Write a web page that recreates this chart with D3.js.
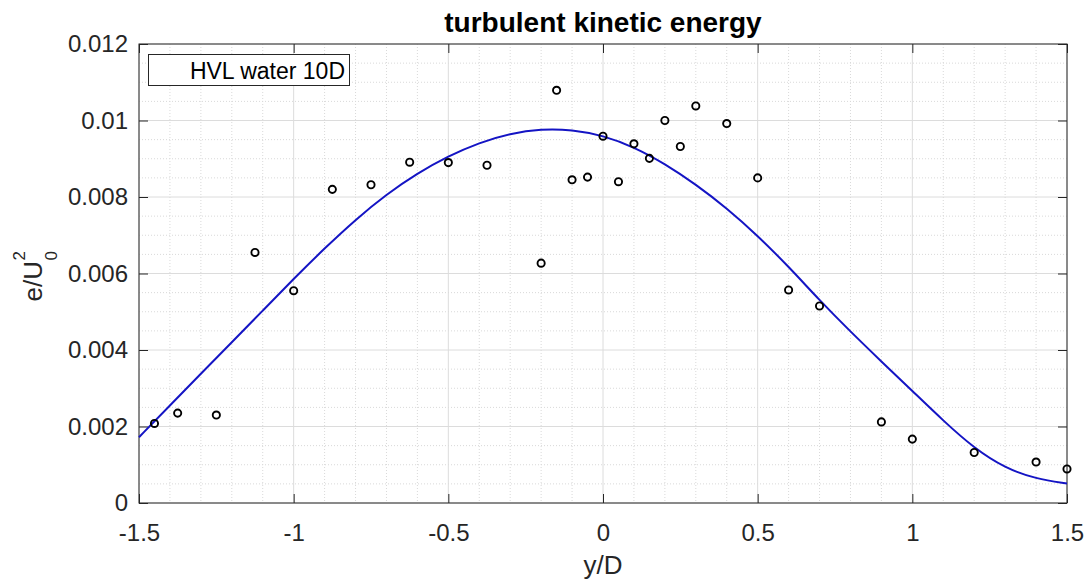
<!DOCTYPE html>
<html>
<head>
<meta charset="utf-8">
<script src="https://cdn.jsdelivr.net/npm/d3@7"></script>
<style>
  body { margin: 0; background: #fff; }
  svg { display: block; font-family: "Liberation Sans", Arial, Helvetica, sans-serif; }
</style>
</head>
<body>
<script>
// measured points (HVL water 10D)
const ptX = [-1.45, -1.375, -1.25, -1.125, -1, -0.875, -0.75, -0.625, -0.5, -0.375,
  -0.2, -0.15, -0.1, -0.05, 0, 0.05, 0.1, 0.15, 0.2, 0.25,
  0.3, 0.4, 0.5, 0.6, 0.7, 0.9, 1, 1.2, 1.4, 1.5]
const ptY = [0.00208, 0.00235, 0.0023, 0.00655, 0.00555, 0.0082, 0.00832, 0.00891, 0.0089, 0.00883,
  0.00627, 0.01079, 0.00845, 0.00852, 0.00959, 0.0084, 0.00939, 0.00901, 0.01, 0.00932,
  0.01038, 0.00992, 0.0085, 0.00557, 0.00515, 0.00212, 0.00167, 0.00132, 0.00107, 0.00089]

// fitted curve
const fitX = [-1.5, -1.4, -1.3, -1.2, -1.1, -1.0, -0.9, -0.8, -0.7, -0.6, -0.5, -0.4, -0.3, -0.2, -0.1,
  0, 0.1, 0.2, 0.3, 0.4, 0.5, 0.6, 0.7, 0.8, 0.9, 1.0, 1.1, 1.2, 1.3, 1.4, 1.5]
const fitY = [0.00172, 0.00255, 0.00338, 0.0042, 0.00503, 0.00586, 0.00666, 0.00741, 0.00807, 0.00862,
  0.00907, 0.00942, 0.00966, 0.00978, 0.00976, 0.00961, 0.00931, 0.00887, 0.00833, 0.00771,
  0.00699, 0.00618, 0.0053, 0.00448, 0.0037, 0.00293, 0.00215, 0.00143, 0.00091, 0.00063, 0.00051]

const xTicks = [-1.5, -1, -0.5, 0, 0.5, 1, 1.5]
const xTickLabels = ['-1.5', '-1', '-0.5', '0', '0.5', '1', '1.5']
const yTicks = [0, 0.002, 0.004, 0.006, 0.008, 0.01, 0.012]
const yTickLabels = ['0', '0.002', '0.004', '0.006', '0.008', '0.01', '0.012']

const W = 1090, H = 584
const margin = {top: 44, right: 23, bottom: 81, left: 139},
      width = W - margin.left - margin.right,
      height = H - margin.top - margin.bottom

const axisColor = '#262626'

const svg = d3.select('body').append('svg')
  .attr('width', W)
  .attr('height', H)

const g = svg.append('g')
  .attr('transform', 'translate(' + margin.left + ',' + margin.top + ')')

const x = d3.scaleLinear().domain([-1.5, 1.5]).range([0, width])
const y = d3.scaleLinear().domain([0, 0.012]).range([height, 0])

// minor grid
const xMinor = d3.range(-15, 16).map(d => d / 10).filter(d => Math.abs(d * 2 - Math.round(d * 2)) > 1e-9)
const yMinor = d3.range(0, 25).map(d => d * 0.0005).filter((d, i) => i % 4 !== 0)

g.append('g').selectAll('line').data(xMinor).join('line')
  .attr('x1', d => x(d)).attr('x2', d => x(d))
  .attr('y1', 0).attr('y2', height)
  .attr('stroke', '#d9d9d9').attr('stroke-width', 1)
  .attr('stroke-dasharray', '1,2')

g.append('g').selectAll('line').data(yMinor).join('line')
  .attr('x1', 0).attr('x2', width)
  .attr('y1', d => y(d)).attr('y2', d => y(d))
  .attr('stroke', '#d9d9d9').attr('stroke-width', 1)
  .attr('stroke-dasharray', '1,2')

// major grid
g.append('g').selectAll('line').data(xTicks).join('line')
  .attr('x1', d => x(d)).attr('x2', d => x(d))
  .attr('y1', 0).attr('y2', height)
  .attr('stroke', '#dcdcdc').attr('stroke-width', 1)

g.append('g').selectAll('line').data(yTicks).join('line')
  .attr('x1', 0).attr('x2', width)
  .attr('y1', d => y(d)).attr('y2', d => y(d))
  .attr('stroke', '#dcdcdc').attr('stroke-width', 1)

// axes (ticks inward, box on)
const tickLen = 9
const fmtX = d => xTickLabels[xTicks.indexOf(d)]
const fmtY = d => yTickLabels[yTicks.indexOf(d)]

function styleAxis(sel) {
  sel.select('.domain').remove()
  sel.selectAll('line').attr('stroke', axisColor)
  sel.selectAll('text').attr('fill', axisColor)
}

g.append('g')
  .attr('transform', 'translate(0,' + height + ')')
  .call(d3.axisBottom(x).tickValues(xTicks).tickFormat(fmtX).tickSizeInner(-tickLen).tickSizeOuter(0).tickPadding(21))
  .call(styleAxis)
  .selectAll('text').style('font-size', '24px')

g.append('g')
  .call(d3.axisTop(x).tickValues(xTicks).tickFormat('').tickSizeInner(-tickLen).tickSizeOuter(0))
  .call(styleAxis)

g.append('g')
  .call(d3.axisLeft(y).tickValues(yTicks).tickFormat(fmtY).tickSizeInner(-tickLen).tickSizeOuter(0).tickPadding(11))
  .call(styleAxis)
  .selectAll('text').style('font-size', '24px')

g.append('g')
  .attr('transform', 'translate(' + width + ',0)')
  .call(d3.axisRight(y).tickValues(yTicks).tickFormat('').tickSizeInner(-tickLen).tickSizeOuter(0))
  .call(styleAxis)

g.append('rect')
  .attr('x', 0).attr('y', 0)
  .attr('width', width).attr('height', height)
  .attr('fill', 'none')
  .attr('stroke', axisColor).attr('stroke-width', 1)

// fitted curve
const fit = fitX.map((d, i) => [d, fitY[i]])
g.append('path')
  .datum(fit)
  .attr('fill', 'none')
  .attr('stroke', '#1414c4')
  .attr('stroke-width', 2)
  .attr('d', d3.line().x(d => x(d[0])).y(d => y(d[1])).curve(d3.curveBasis))

// data points
const pts = ptX.map((d, i) => [d, ptY[i]])
g.append('g').selectAll('circle').data(pts).join('circle')
  .attr('cx', d => x(d[0]))
  .attr('cy', d => y(d[1]))
  .attr('r', 3.6)
  .attr('fill', 'none')
  .attr('stroke', '#000')
  .attr('stroke-width', 1.9)

// legend
g.append('rect')
  .attr('x', 9.5).attr('y', 10.5)
  .attr('width', 201).attr('height', 31)
  .attr('fill', '#fff')
  .attr('stroke', axisColor).attr('stroke-width', 1)
g.append('text')
  .attr('x', 206).attr('y', 35)
  .attr('text-anchor', 'end')
  .attr('fill', '#000')
  .style('font-size', '23px')
  .text('HVL water 10D')

// title
svg.append('text')
  .attr('x', margin.left + width / 2).attr('y', 32)
  .attr('text-anchor', 'middle')
  .attr('font-weight', 'bold')
  .attr('fill', '#000')
  .style('font-size', '28px')
  .text('turbulent kinetic energy')

// x label
svg.append('text')
  .attr('x', margin.left + width / 2).attr('y', 574)
  .attr('text-anchor', 'middle')
  .attr('fill', axisColor)
  .style('font-size', '26px')
  .text('y/D')

// y label  e/U_0^2
const yl = svg.append('g')
  .attr('transform', 'translate(42,' + (margin.top + height / 2) + ') rotate(-90)')
  .attr('fill', axisColor)
yl.append('text').attr('x', -28).attr('y', 0).style('font-size', '26px').text('e/U')
yl.append('text').attr('x', 13).attr('y', -17).style('font-size', '17px').text('2')
yl.append('text').attr('x', 13).attr('y', 15).style('font-size', '17px').text('0')
</script>
</body>
</html>
